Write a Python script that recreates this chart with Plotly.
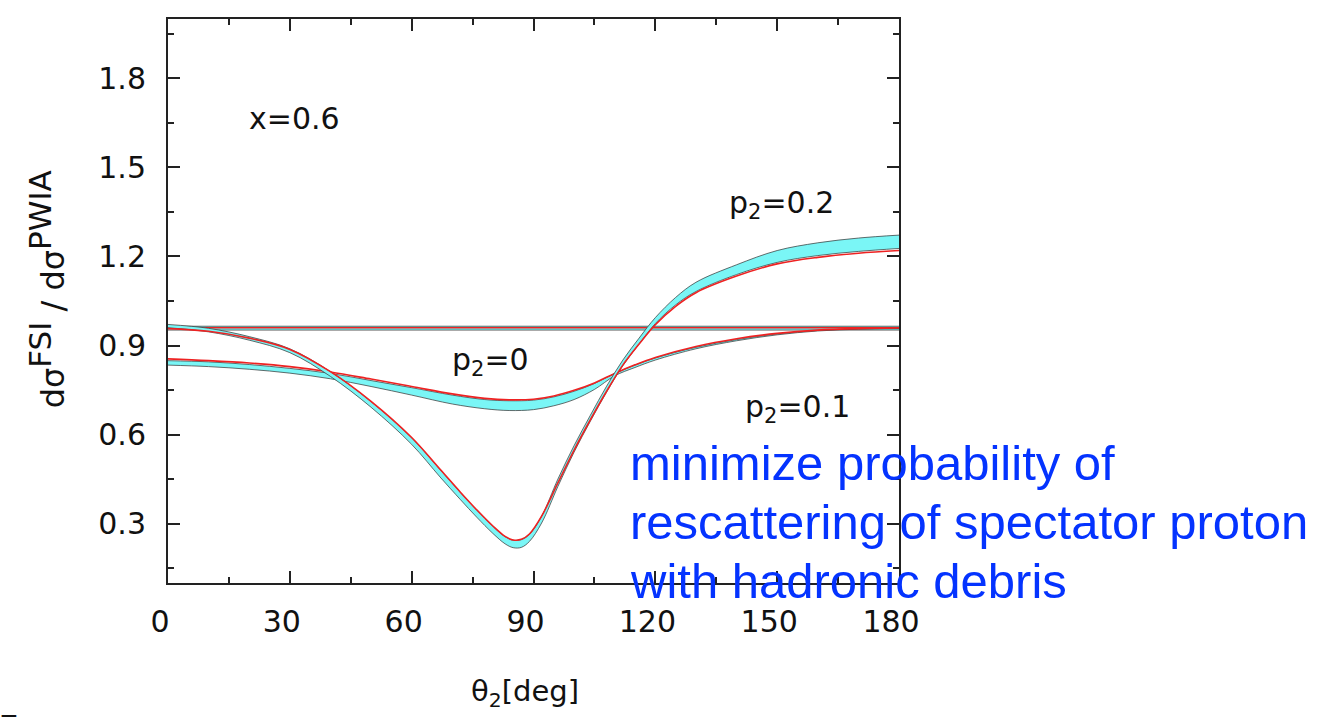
import plotly.graph_objects as go

# ---- data: ratio dσ(FSI)/dσ(PWIA) versus spectator angle θ2 ----
# deep-dip curve (p2 = 0.2)
theta_a = [0, 10, 20, 30, 40, 50, 60, 67, 72, 76, 80, 83, 85, 87, 89, 92, 96, 100,
           104, 108, 112, 116, 120, 125, 130, 140, 150, 160, 170, 180]
red_a = [0.957, 0.948, 0.925, 0.887, 0.812, 0.712, 0.590, 0.483, 0.406, 0.347,
         0.292, 0.257, 0.245, 0.247, 0.265, 0.325, 0.437, 0.548, 0.650, 0.746,
         0.834, 0.905, 0.970, 1.032, 1.078, 1.134, 1.175, 1.197, 1.211, 1.220]
band_a_lo = [0.960, 0.946, 0.918, 0.876, 0.796, 0.692, 0.567, 0.457, 0.381, 0.322,
             0.267, 0.232, 0.219, 0.220, 0.240, 0.302, 0.425, 0.541, 0.645, 0.743,
             0.832, 0.905, 0.974, 1.037, 1.082, 1.139, 1.180, 1.203, 1.217, 1.227]
band_a_hi = [0.971, 0.958, 0.930, 0.889, 0.812, 0.711, 0.589, 0.482, 0.405, 0.346,
             0.291, 0.256, 0.244, 0.246, 0.264, 0.325, 0.450, 0.563, 0.665, 0.763,
             0.851, 0.925, 0.994, 1.062, 1.113, 1.172, 1.220, 1.246, 1.262, 1.272]

# shallow curve (p2 = 0)
theta_b = [0, 10, 20, 30, 40, 50, 60, 70, 78, 84, 90, 95, 100, 105, 110, 115,
           120, 130, 140, 150, 160, 170, 180]
red_b = [0.855, 0.849, 0.841, 0.829, 0.811, 0.787, 0.762, 0.737, 0.722, 0.717,
         0.719, 0.730, 0.749, 0.774, 0.806, 0.835, 0.860, 0.897, 0.923, 0.941,
         0.952, 0.957, 0.959]
band_b_lo = [0.834, 0.829, 0.820, 0.807, 0.788, 0.762, 0.733, 0.703, 0.687, 0.681,
             0.684, 0.697, 0.718, 0.752, 0.798, 0.826, 0.851, 0.889, 0.916, 0.936,
             0.949, 0.955, 0.957]
band_b_hi = [0.849, 0.845, 0.836, 0.823, 0.806, 0.782, 0.758, 0.733, 0.718, 0.714,
             0.716, 0.727, 0.746, 0.772, 0.806, 0.834, 0.858, 0.894, 0.920, 0.939,
             0.951, 0.956, 0.958]

# flat curve
theta_c = [0, 180]
red_c = [0.960, 0.960]
band_c_lo = [0.952, 0.952]
band_c_hi = [0.965, 0.965]

x_ticks = [0, 30, 60, 90, 120, 150, 180]
y_ticks = [0.3, 0.6, 0.9, 1.2, 1.5, 1.8]

CYAN = "rgb(122,246,246)"
EDGE = "rgba(60,60,60,0.75)"
RED = "#ee2222"
TXT = "DejaVu Sans, sans-serif"

fig = go.Figure()


def add_curve(th, lo, hi, red):
    fig.add_trace(go.Scatter(x=th, y=lo, mode="lines", line=dict(color=EDGE, width=1, shape="spline"),
                             hoverinfo="skip", showlegend=False))
    fig.add_trace(go.Scatter(x=th, y=hi, mode="lines", fill="tonexty", fillcolor=CYAN,
                             line=dict(color=EDGE, width=1, shape="spline"),
                             hoverinfo="skip", showlegend=False))
    fig.add_trace(go.Scatter(x=th, y=red, mode="lines", line=dict(color=RED, width=1.6, shape="spline"),
                             showlegend=False))


add_curve(theta_c, band_c_lo, band_c_hi, red_c)
add_curve(theta_b, band_b_lo, band_b_hi, red_b)
add_curve(theta_a, band_a_lo, band_a_hi, red_a)

axis_common = dict(
    showline=True, linecolor="#222", linewidth=2, mirror="allticks",
    ticks="inside", ticklen=12, tickwidth=1.5, tickcolor="#222",
    showgrid=False, zeroline=False,
    tickfont=dict(family=TXT, size=30, color="#111"),
)

fig.update_xaxes(range=[0, 180], tickvals=x_ticks, ticklabelstandoff=11, ticklabelshift=-8,
                 minor=dict(ticks="inside", ticklen=6, tickwidth=1.5, tickcolor="#222", dtick=15, tick0=0),
                 **axis_common)
fig.update_yaxes(range=[0.1, 2.0], tickvals=y_ticks, ticklabelstandoff=14,
                 tickformat=".1f",
                 minor=dict(ticks="inside", ticklen=6, tickwidth=1.5, tickcolor="#222", dtick=0.15, tick0=0),
                 **axis_common)

labels = [
    (31.2, 1.666, "x=0.6"),
    (151.1, 1.376, "p<sub>2</sub>=0.2"),
    (79.5, 0.847, "p<sub>2</sub>=0"),
    (154.9, 0.687, "p<sub>2</sub>=0.1"),
]
for x, y, t in labels:
    fig.add_annotation(x=x, y=y, xref="x", yref="y", text=t, showarrow=False,
                       xanchor="center", yanchor="middle",
                       font=dict(family=TXT, size=30, color="#111"))

# axis titles
fig.add_annotation(xref="paper", yref="paper", x=0.488, y=-0.195, xanchor="center", yanchor="middle",
                   text="θ<sub>2</sub>[deg]",
                   showarrow=False, font=dict(family=TXT, size=29, color="#111"))
fig.add_annotation(xref="paper", yref="paper", x=-0.166, y=0.52, xanchor="center", yanchor="middle",
                   textangle=-90,
                   text="dσ<sup><span style='font-size:31px'>FSI</span></sup> / "
                        "dσ<sup><span style='font-size:31px'>PWIA</span></sup>",
                   showarrow=False, font=dict(family=TXT, size=32, color="#111"))

# blue remark
remark = ["minimize probability of", "rescattering of spectator proton", "with hadronic debris"]
remark_y = [0.212, 0.1075, 0.003]
for line, yy in zip(remark, remark_y):
    fig.add_annotation(xref="paper", yref="paper", x=0.6295, y=yy, xanchor="left", yanchor="middle",
                       text=line, showarrow=False,
                       font=dict(family="Liberation Sans, Arial, sans-serif", size=49, color="#0433ff"))

# slide number, cut by the page edge
fig.add_annotation(xref="paper", yref="paper", x=-0.232, y=-0.218, xanchor="left", yanchor="top",
                   text="7", showarrow=False,
                   font=dict(family="Liberation Sans, Arial, sans-serif", size=32, color="#111"))

fig.update_layout(
    width=1325, height=717,
    margin=dict(l=168, r=426, t=19, b=134),
    paper_bgcolor="white", plot_bgcolor="white",
    showlegend=False,
)

fig.write_html("out.html")
